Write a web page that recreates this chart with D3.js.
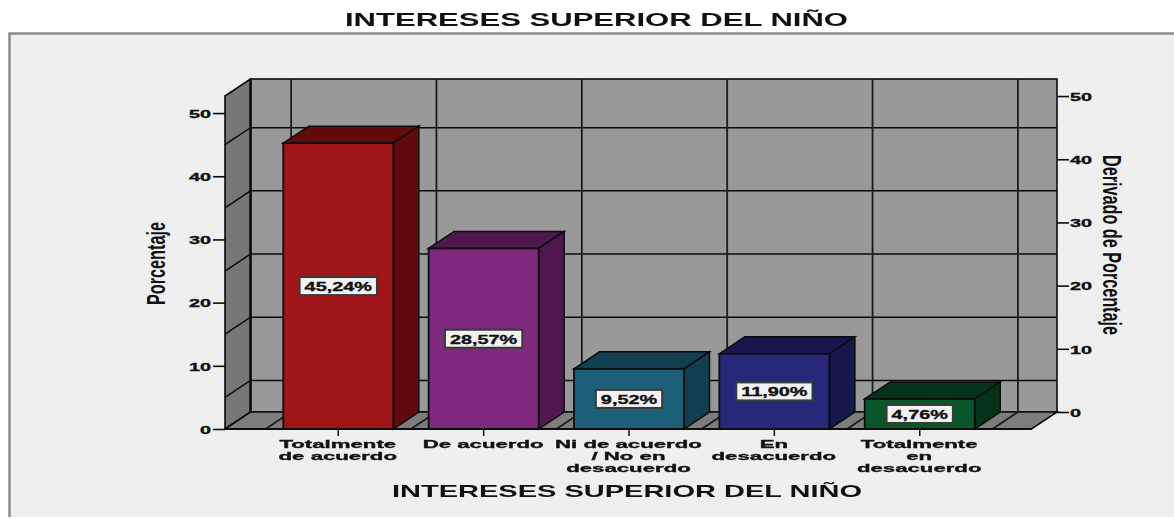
<!DOCTYPE html>
<html><head><meta charset="utf-8">
<script src="https://cdn.jsdelivr.net/npm/d3@7/dist/d3.min.js"></script>
<style>html,body{margin:0;padding:0;background:#fff}svg{display:block;filter:blur(0.4px)}text{font-family:"Liberation Sans",Arial,sans-serif;font-weight:bold;fill:#111}.heavy{stroke:#111;stroke-width:0.35px}</style>
</head><body><svg id="c" width="1174" height="518"></svg>
<script>
const chartTitle = "INTERESES SUPERIOR DEL NIÑO";
const xTitle = "INTERESES SUPERIOR DEL NIÑO";
const yTitleLeft = "Porcentaje";
const yTitleRight = "Derivado de Porcentaje";
const categories = ["Totalmente de acuerdo","De acuerdo","Ni de acuerdo / No en desacuerdo","En desacuerdo","Totalmente en desacuerdo"];
const categoryLines = [["Totalmente","de acuerdo"],["De acuerdo"],["Ni de acuerdo","/ No en","desacuerdo"],["En","desacuerdo"],["Totalmente","en","desacuerdo"]];
const values = [45.24,28.57,9.52,11.90,4.76];
const valueLabels = ["45,24%","28,57%","9,52%","11,90%","4,76%"];
const frontColors = ["#A01517","#7F2A7F","#1B5F78","#27287A","#0A562B"];
const sideColors = ["#620B0D","#4E174E","#123F50","#17174D","#05331A"];
const axisTicks = [0,10,20,30,40,50];
const gridValues = [5,15,25,35,45];

const svg = d3.select("#c");
const dx = 25.5, dy = -17;
const y = d3.scaleLinear().domain([0,52.7]).range([429,96]);
const pad = 0.243;
const x = d3.scaleBand().domain(categories).range([265.6,992.4]).paddingInner(pad).paddingOuter(pad/2);
const floorL = 225, floorR = 1031.5, yMax = y.domain()[1];
const pts = a => a.map(p=>p.join(",")).join(" ");
const stretch = (sel,k) => sel.each(function(){ this.setAttribute("textLength", this.getComputedTextLength()*k); this.setAttribute("lengthAdjust","spacingAndGlyphs"); });

// panel
svg.append("rect").attr("x",9.5).attr("y",33.5).attr("width",1180).attr("height",500).attr("fill","#EFEFEF").attr("stroke","#8a8a8a").attr("stroke-width",2.5);
svg.append("rect").attr("x",0).attr("y",517).attr("width",1174).attr("height",1).attr("fill","#fff");

// walls
const ink="#0c0c0c";
svg.append("rect").attr("x",floorL+dx).attr("y",y(yMax)+dy).attr("width",floorR-floorL).attr("height",y(0)-y(yMax)).attr("fill","#999").attr("stroke",ink).attr("stroke-width",1.6);
svg.append("polygon").attr("points",pts([[floorL,y(0)],[floorL,y(yMax)],[floorL+dx,y(yMax)+dy],[floorL+dx,y(0)+dy]])).attr("fill","#777").attr("stroke",ink).attr("stroke-width",1.6);
svg.append("polygon").attr("points",pts([[floorL,y(0)],[floorL+dx,y(0)+dy],[floorR+dx,y(0)+dy],[floorR,y(0)]])).attr("fill","#7d7d7d").attr("stroke",ink).attr("stroke-width",1.6);
svg.append("line").attr("x1",floorL+dx).attr("x2",floorL+dx).attr("y1",y(yMax)+dy).attr("y2",y(0)+dy).attr("stroke",ink).attr("stroke-width",2.4);

// horizontal grid
gridValues.forEach(v=>{
  svg.append("polyline").attr("points",pts([[floorL,y(v)],[floorL+dx,y(v)+dy],[floorR+dx,y(v)+dy]])).attr("fill","none").attr("stroke",ink).attr("stroke-width",1.5);
});
// vertical grid
const gridX = categories.map(c=>x(c)-x.step()*pad/2).concat([x(categories[4])+x.step()-x.step()*pad/2]);
gridX.forEach(g=>{
  svg.append("polyline").attr("points",pts([[g,y(0)],[g+dx,y(0)+dy],[g+dx,y(yMax)+dy]])).attr("fill","none").attr("stroke","#1c1c1c").attr("stroke-width",1.8);
});

// bars
const bw = x.bandwidth();
const bars = svg.selectAll("g.bar").data(categories).join("g").attr("class","bar");
bars.append("polygon").attr("points",(c,i)=>{const l=x(c),r=l+bw,t=y(values[i]);return pts([[l,t],[l+dx,t+dy],[r+dx,t+dy],[r,t]]);}).attr("fill",(c,i)=>sideColors[i]).attr("stroke",ink).attr("stroke-width",1.5);
bars.append("polygon").attr("points",(c,i)=>{const r=x(c)+bw,t=y(values[i]),b=y(0);return pts([[r,t],[r+dx,t+dy],[r+dx,b+dy],[r,b]]);}).attr("fill",(c,i)=>sideColors[i]).attr("stroke",ink).attr("stroke-width",1.5);
bars.append("rect").attr("x",c=>x(c)).attr("width",bw).attr("y",(c,i)=>y(values[i])).attr("height",(c,i)=>y(0)-y(values[i])).attr("fill",(c,i)=>frontColors[i]).attr("stroke",ink).attr("stroke-width",1.8);

// floor front edge
svg.append("line").attr("x1",floorL).attr("x2",floorR).attr("y1",y(0)).attr("y2",y(0)).attr("stroke",ink).attr("stroke-width",1.8);

// value labels
bars.each(function(c,i){
  const g=d3.select(this), cx=x(c)+bw/2, cy=(y(0)+y(values[i]))/2;
  const t=g.append("text").attr("class","heavy").attr("x",cx).attr("y",cy+4.8).attr("text-anchor","middle").attr("font-size",13.5).text(valueLabels[i]);
  stretch(t,1.47);
  const w=+t.attr("textLength")+10;
  g.insert("rect","text").attr("x",cx-w/2).attr("y",cy-9).attr("width",w).attr("height",18).attr("fill","#F2F2F2").attr("stroke","#3a3a3a").attr("stroke-width",2);
});

// y axes
const styleAxis = (g,anchor,tx)=>{
  g.select(".domain").remove();
  g.selectAll(".tick line").attr("stroke",ink).attr("stroke-width",1.6);
  g.selectAll(".tick text").attr("class","heavy").attr("font-size",11.5).attr("font-family",null).attr("fill","#111").attr("text-anchor",anchor).attr("x",tx).attr("dy","0.38em");
  stretch(g.selectAll(".tick text"),1.72);
};
const axisLeft = svg.append("g").attr("transform",`translate(${floorL},0)`).attr("font-family",null).call(d3.axisLeft(y).tickValues(axisTicks).tickSize(12).tickFormat(d3.format("d")));
styleAxis(axisLeft,"end",-14);
const axisRight = svg.append("g").attr("transform",`translate(${floorR+dx},${dy})`).attr("font-family",null).call(d3.axisRight(y).tickValues(axisTicks).tickSize(12).tickFormat(d3.format("d")));
styleAxis(axisRight,"start",13);

// category axis
categories.forEach((c,i)=>{
  const cx=x(c)+bw/2;
  svg.append("line").attr("x1",cx).attr("x2",cx).attr("y1",y(0)).attr("y2",y(0)+7).attr("stroke",ink).attr("stroke-width",1.5);
  categoryLines[i].forEach((ln,j)=>{
    const t=svg.append("text").attr("class","heavy").attr("x",cx-0.5).attr("y",448+j*12).attr("text-anchor","middle").attr("font-size",11.5).text(ln);
    stretch(t,1.93);
  });
});

// titles
const fit=(t,L)=>t.attr("textLength",L).attr("lengthAdjust","spacingAndGlyphs");
fit(svg.append("text").attr("x",596.5).attr("y",26).attr("text-anchor","middle").attr("font-size",18).text(chartTitle),503);
fit(svg.append("text").attr("x",627).attr("y",497).attr("text-anchor","middle").attr("font-size",17).text(xTitle),470);
fit(svg.append("text").attr("transform","translate(165,263.5) rotate(-90)").attr("text-anchor","middle").attr("font-size",25).text(yTitleLeft),83);
fit(svg.append("text").attr("transform","translate(1103,245) rotate(90)").attr("text-anchor","middle").attr("font-size",25).text(yTitleRight),180);
</script></body></html>
